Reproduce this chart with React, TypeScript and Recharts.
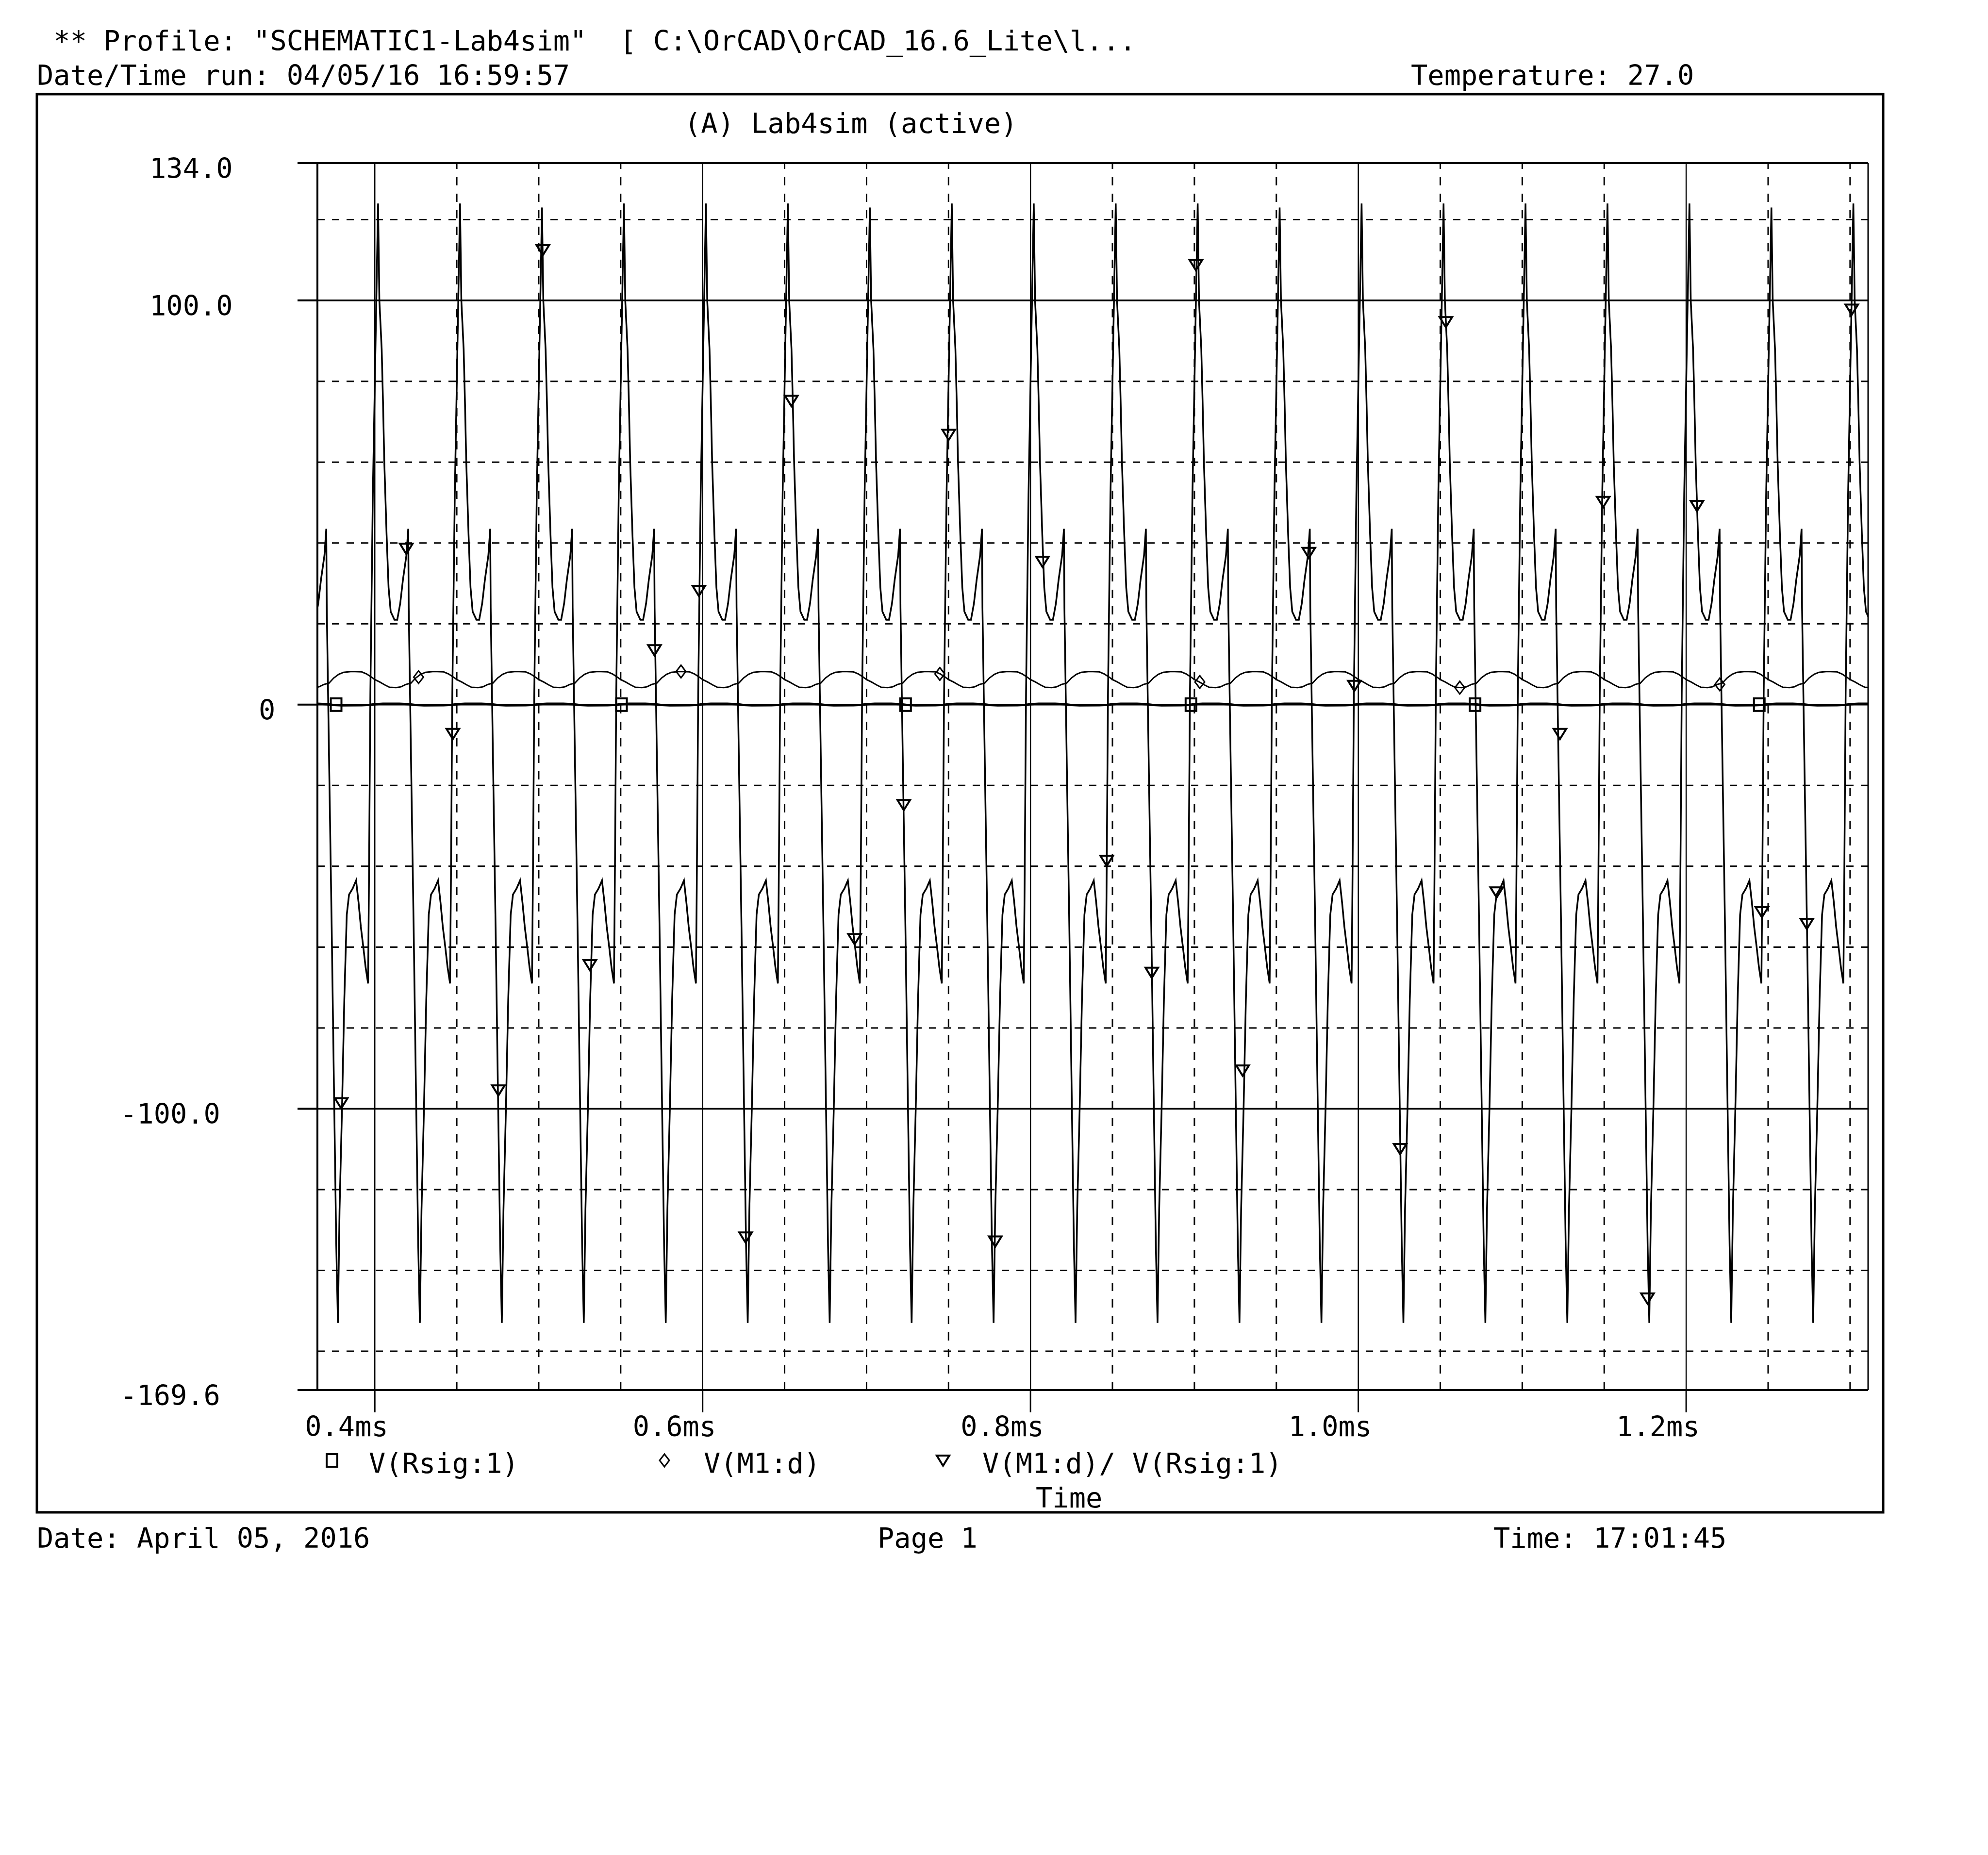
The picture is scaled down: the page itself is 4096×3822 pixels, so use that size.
import React from "react";
import { ComposedChart, Line, XAxis, YAxis, ReferenceLine } from "recharts";

// axis ranges and ticks
const TIME_DOMAIN = [0.365, 1.311];
const VALUE_DOMAIN = [-169.6, 134];

const X_TICKS = [0.4, 0.6, 0.8, 1.0, 1.2];
const X_TICK_LABELS = ["0.4ms", "0.6ms", "0.8ms", "1.0ms", "1.2ms"];
const X_MINOR = [0.45, 0.5, 0.55, 0.65, 0.7, 0.75, 0.85, 0.9, 0.95, 1.05, 1.1, 1.15, 1.25, 1.3];

const Y_TICKS = [134, 100, 0, -100, -169.6];
const Y_TICK_LABELS = ["134.0", "100.0", "0", "-100.0", "-169.6"];
const Y_MAJOR = [100, 0, -100];
const Y_MINOR = [120, 80, 60, 40, 20, -20, -40, -60, -80, -120, -140, -160];

// start of every 0.05 ms cycle shown
const PERIOD_STARTS = [
  0.35, 0.4, 0.45, 0.5, 0.55, 0.6, 0.65, 0.7, 0.75, 0.8,
  0.85, 0.9, 0.95, 1.0, 1.05, 1.1, 1.15, 1.2, 1.25, 1.3,
];
// V(M1:d)/V(Rsig:1) peak and trough in each cycle
const SPIKE_TOPS = [124, 124, 124, 123, 124, 124, 124, 123, 124, 124, 124, 124, 123, 124, 124, 124, 124, 124, 123, 124];
const SPIKE_BOTTOMS = [-153, -153, -153, -153, -153, -153, -153, -153, -153, -153, -153, -153, -153, -153, -153, -153, -153, -153, -153, -153];

// one cycle of each trace: [ms after cycle start, volts]
const RATIO_CYCLE: [number, number | string][] = [
  [0.002, "top"], [0.0028, 100], [0.0042, 88], [0.005, 75], [0.0058, 60],
  [0.0072, 42], [0.0084, 29], [0.0097, 23], [0.012, 21], [0.0137, 21],
  [0.0155, 25], [0.0172, 31], [0.0193, 37], [0.0204, 43.5], [0.0207, 24],
  [0.0222, -16], [0.0237, -55], [0.0251, -95], [0.0265, -134], [0.0275, "bottom"],
  [0.0285, -125], [0.03, -100], [0.0314, -73], [0.0329, -52], [0.0343, -47],
  [0.0365, -45.5], [0.0386, -43.5], [0.0401, -49], [0.0415, -55], [0.043, -60],
  [0.0444, -65], [0.0459, -69], [0.0464, -46], [0.0473, 3], [0.0488, 52],
];
const DRAIN_CYCLE: [number, number][] = [
  [0.0, 6.2], [0.003, 5.6], [0.006, 4.9], [0.009, 4.3], [0.013, 4.2],
  [0.016, 4.4], [0.019, 5.0], [0.022, 5.3], [0.025, 6.6], [0.028, 7.5],
  [0.031, 8.0], [0.036, 8.2], [0.042, 8.1], [0.045, 7.6], [0.048, 6.8],
];
const RSIG_CYCLE: [number, number][] = [
  [0.0, 0.1], [0.005, 0.2], [0.015, 0.2], [0.021, 0.1], [0.025, -0.1],
  [0.03, -0.18], [0.042, -0.15], [0.047, -0.05],
];

// marker symbols along the traces: [ms, volts]
const RSIG_MARKS: [number, number][] = [
  [0.3764, 0], [0.5505, 0], [0.7238, 0], [0.8979, 0], [1.0712, 0], [1.2446, 0],
];
const DRAIN_MARKS: [number, number][] = [
  [0.4267, 6.8], [0.5868, 8.2], [0.7447, 7.6], [0.9033, 5.6], [1.0619, 4.2], [1.2205, 5.0],
];
const RATIO_MARKS: [number, number][] = [
  [0.3795, -98.6], [0.4192, 38.6], [0.4476, -7.2], [0.4754, -95.4], [0.5025, 112.5],
  [0.5312, -64.4], [0.5706, 13.5], [0.5977, 28.2], [0.6262, -131.8], [0.6541, 75.2],
  [0.6927, -58], [0.7227, -24.8], [0.7501, 66.8], [0.7785, -132.8], [0.8073, 35.4],
  [0.8465, -38.6], [0.874, -66.3], [0.9009, 108.8], [0.9294, -90.5], [0.9698, 37.6],
  [0.9976, 4.7], [1.0255, -109.9], [1.0534, 94.7], [1.0844, -46.4], [1.123, -7.2],
  [1.1494, 50.2], [1.1764, -146.9], [1.2066, 49.2], [1.2462, -51.3], [1.2736, -54.2],
  [1.301, 97.8],
];

const toPoints = (list: [number, number][]) => list.map(([t, v]) => ({ t, v }));

const buildTrace = (cycle: [number, number | string][]) =>
  PERIOD_STARTS.flatMap((start, i) =>
    cycle.map(([dt, v]) => ({
      t: +(start + dt).toFixed(5),
      v: v === "top" ? SPIKE_TOPS[i] : v === "bottom" ? SPIKE_BOTTOMS[i] : (v as number),
    }))
  );

const ratioData = buildTrace(RATIO_CYCLE);
const drainData = buildTrace(DRAIN_CYCLE);
const rsigData = buildTrace(RSIG_CYCLE);

// layout (px)
const W = 4096;
const H = 3822;
const PLOT_L = 654;
const PLOT_T = 336;
const PLOT_R = 3849;
const PLOT_B = 2864;
const FONT = "'DejaVu Sans Mono', 'Liberation Mono', monospace";
const FS = 57;

const Y_LABEL_X: Record<string, number> = {
  "134.0": 308,
  "100.0": 308,
  "0": 533,
  "-100.0": 248,
  "-169.6": 248,
};

const Square = ({ cx, cy }: { cx: number; cy: number }) => (
  <rect x={cx - 11} y={cy - 13} width={22} height={26} fill="none" stroke="#000" strokeWidth={4} />
);
const Diamond = ({ cx, cy }: { cx: number; cy: number }) => (
  <path d={`M${cx},${cy - 13} L${cx + 10},${cy} L${cx},${cy + 13} L${cx - 10},${cy} Z`} fill="none" stroke="#000" strokeWidth={3} />
);
const Triangle = ({ cx, cy }: { cx: number; cy: number }) => (
  <path d={`M${cx - 13},${cy - 10} L${cx + 13},${cy - 10} L${cx},${cy + 11} Z`} fill="none" stroke="#000" strokeWidth={4} />
);

const XTick = (props: any) => {
  const { x, payload } = props;
  const i = X_TICKS.indexOf(payload.value);
  return (
    <g>
      <line x1={x} x2={x} y1={PLOT_B} y2={PLOT_B + 46} stroke="#000" strokeWidth={3} />
      <text x={x - 144} y={PLOT_B + 95} fontFamily={FONT} fontSize={FS} fill="#000">
        {X_TICK_LABELS[i]}
      </text>
    </g>
  );
};

const YTick = (props: any) => {
  const { y, payload } = props;
  const label = Y_TICK_LABELS[Y_TICKS.indexOf(payload.value)];
  return (
    <g>
      <line x1={PLOT_L - 41} x2={PLOT_L} y1={y} y2={y} stroke="#000" strokeWidth={4} />
      <text x={Y_LABEL_X[label]} y={y + 31} fontFamily={FONT} fontSize={FS} fill="#000">
        {label}
      </text>
    </g>
  );
};

const Txt = ({ x, y, children, anchor = "start" }: any) => (
  <text x={x} y={y} fontFamily={FONT} fontSize={FS} fill="#000" textAnchor={anchor} xmlSpace="preserve" style={{ whiteSpace: "pre" }}>
    {children}
  </text>
);

export default function App() {
  return (
    <div style={{ position: "relative", width: W, height: H, background: "#fff" }}>
      <style>{"body{margin:0;background:#fff}"}</style>
      <ComposedChart
        width={W}
        height={H}
        margin={{ top: PLOT_T, left: PLOT_L - 40, right: W - PLOT_R, bottom: H - PLOT_B - 40 }}
      >
        <XAxis
          dataKey="t"
          type="number"
          domain={TIME_DOMAIN}
          ticks={X_TICKS}
          allowDataOverflow
          height={40}
          axisLine={false}
          tickLine={false}
          tickSize={0}
          tick={<XTick />}
          interval={0}
        />
        <YAxis
          type="number"
          domain={VALUE_DOMAIN}
          ticks={Y_TICKS}
          allowDataOverflow
          width={40}
          axisLine={false}
          tickLine={false}
          tickSize={0}
          tick={<YTick />}
          interval={0}
        />
        {Y_MINOR.map((v) => (
          <ReferenceLine key={`hy${v}`} y={v} stroke="#000" strokeWidth={3} strokeDasharray="15 15" />
        ))}
        {X_MINOR.map((v) => (
          <ReferenceLine key={`vx${v}`} x={v} stroke="#000" strokeWidth={3} strokeDasharray="17 17" />
        ))}
        {Y_MAJOR.map((v) => (
          <ReferenceLine key={`sy${v}`} y={v} stroke="#000" strokeWidth={3.5} />
        ))}
        {X_TICKS.map((v) => (
          <ReferenceLine key={`sx${v}`} x={v} stroke="#000" strokeWidth={2.5} />
        ))}
        <ReferenceLine y={134} stroke="#000" strokeWidth={4} />
        <ReferenceLine y={-169.6} stroke="#000" strokeWidth={4} />
        <ReferenceLine x={TIME_DOMAIN[0]} stroke="#000" strokeWidth={4} />
        <ReferenceLine x={TIME_DOMAIN[1]} stroke="#000" strokeWidth={3} />

        <Line data={rsigData} dataKey="v" type="linear" stroke="#000" strokeWidth={5} dot={false} isAnimationActive={false} />
        <Line data={drainData} dataKey="v" type="linear" stroke="#000" strokeWidth={3} dot={false} isAnimationActive={false} />
        <Line data={ratioData} dataKey="v" type="linear" stroke="#000" strokeWidth={3.5} dot={false} isAnimationActive={false} />

        <Line
          data={toPoints(RSIG_MARKS)}
          dataKey="v"
          stroke="none"
          isAnimationActive={false}
          dot={(p: any) => <Square key={`s${p.index}`} cx={p.cx} cy={p.cy} />}
        />
        <Line
          data={toPoints(DRAIN_MARKS)}
          dataKey="v"
          stroke="none"
          isAnimationActive={false}
          dot={(p: any) => <Diamond key={`d${p.index}`} cx={p.cx} cy={p.cy} />}
        />
        <Line
          data={toPoints(RATIO_MARKS)}
          dataKey="v"
          stroke="none"
          isAnimationActive={false}
          dot={(p: any) => <Triangle key={`r${p.index}`} cx={p.cx} cy={p.cy} />}
        />
      </ComposedChart>

      <svg width={W} height={H} style={{ position: "absolute", left: 0, top: 0, pointerEvents: "none" }}>
        <rect x={76} y={194} width={3804} height={2922} fill="none" stroke="#000" strokeWidth={5} />
        <Txt x={76} y={104}>{' ** Profile: "SCHEMATIC1-Lab4sim"  [ C:\\OrCAD\\OrCAD_16.6_Lite\\l...'}</Txt>
        <Txt x={76} y={175}>Date/Time run: 04/05/16 16:59:57</Txt>
        <Txt x={2907} y={175}>Temperature: 27.0</Txt>
        <Txt x={1410} y={274}>(A) Lab4sim (active)</Txt>

        <Square cx={684} cy={3009} />
        <Txt x={760} y={3035}>V(Rsig:1)</Txt>
        <Diamond cx={1369} cy={3009} />
        <Txt x={1450} y={3035}>V(M1:d)</Txt>
        <Triangle cx={1943} cy={3009} />
        <Txt x={2024} y={3035}>V(M1:d)/ V(Rsig:1)</Txt>
        <Txt x={2134} y={3106}>Time</Txt>

        <Txt x={76} y={3189}>Date: April 05, 2016</Txt>
        <Txt x={1808} y={3189}>Page 1</Txt>
        <Txt x={3077} y={3189}>Time: 17:01:45</Txt>
      </svg>
    </div>
  );
}
